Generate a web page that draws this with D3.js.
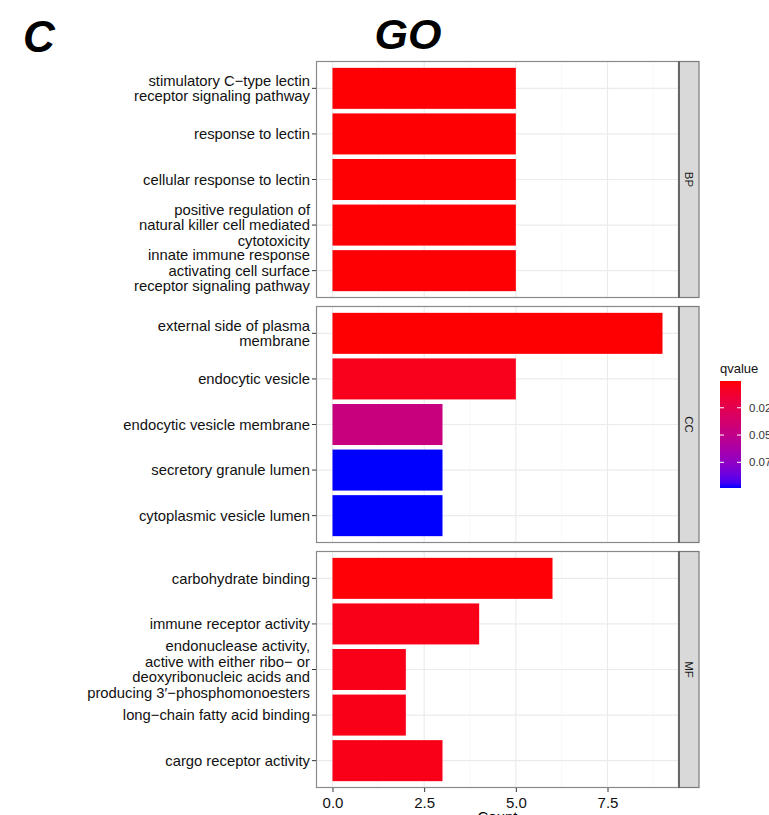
<!DOCTYPE html>
<html>
<head>
<meta charset="utf-8">
<script src="https://cdn.jsdelivr.net/npm/d3@7"></script>
<style>
  body { margin: 0; background: #fff; }
  svg { display: block; font-family: "Liberation Sans", Arial, sans-serif; }
</style>
</head>
<body>
<svg id="chart" width="769" height="815"></svg>
<script>
// ---- data ----
const ontologies = ["BP", "CC", "MF"];
const bpTerms = [
  "stimulatory C\u2212type lectin\nreceptor signaling pathway",
  "response to lectin",
  "cellular response to lectin",
  "positive regulation of\nnatural killer cell mediated\ncytotoxicity",
  "innate immune response\nactivating cell surface\nreceptor signaling pathway"
];
const bpCounts = [5, 5, 5, 5, 5];
const bpQvalues = [0.0012, 0.0012, 0.0012, 0.0012, 0.0012];

const ccTerms = [
  "external side of plasma\nmembrane",
  "endocytic vesicle",
  "endocytic vesicle membrane",
  "secretory granule lumen",
  "cytoplasmic vesicle lumen"
];
const ccCounts = [9, 5, 3, 3, 3];
const ccQvalues = [0.0008, 0.006, 0.045, 0.0985, 0.0985];

const mfTerms = [
  "carbohydrate binding",
  "immune receptor activity",
  "endonuclease activity,\nactive with either ribo\u2212 or\ndeoxyribonucleic acids and\nproducing 3\u2032\u2212phosphomonoesters",
  "long\u2212chain fatty acid binding",
  "cargo receptor activity"
];
const mfCounts = [6, 4, 2, 2, 3];
const mfQvalues = [0.0015, 0.005, 0.005, 0.005, 0.005];

const xTicks = [0, 2.5, 5, 7.5];
const xTickLabels = ["0.0", "2.5", "5.0", "7.5"];
const qTicks = [0.025, 0.05, 0.075];
const qTickLabels = ["0.025", "0.050", "0.075"];
const qDomain = [0.0005, 0.0985];

const panels = [
  { name: ontologies[0], terms: bpTerms, counts: bpCounts, q: bpQvalues },
  { name: ontologies[1], terms: ccTerms, counts: ccCounts, q: ccQvalues },
  { name: ontologies[2], terms: mfTerms, counts: mfCounts, q: mfQvalues }
];

// ---- layout ----
const svg = d3.select("#chart");
const panelLeft = 316, panelRight = 679, stripW = 20;
const panelTop = 61, panelH = 237, panelGap = 8;

const x = d3.scaleLinear().domain([-0.45, 9.45]).range([panelLeft, panelRight]);
const color = d3.scaleLinear().domain(qDomain).range(["red", "blue"]).interpolate(d3.interpolateLab);

// titles
svg.append("text").attr("x", 23).attr("y", 52)
  .attr("font-size", 44).attr("font-weight", "bold").attr("font-style", "italic")
  .attr("fill", "#000").text("C");
svg.append("text").attr("x", 408).attr("y", 49).attr("text-anchor", "middle")
  .attr("font-size", 43).attr("font-weight", "bold").attr("font-style", "italic")
  .attr("fill", "#000").text("GO");

const minorTicks = d3.range(0, 4).map(i => 1.25 + i * 2.5);

panels.forEach((p, i) => {
  const top = panelTop + i * (panelH + panelGap);
  const bottom = top + panelH;
  const y = d3.scaleBand().domain(p.terms).range([top, bottom])
    .paddingInner(0.1).paddingOuter(0.15);
  const g = svg.append("g");

  g.append("rect").attr("x", panelLeft).attr("y", top)
    .attr("width", panelRight - panelLeft).attr("height", panelH).attr("fill", "#fff");

  g.selectAll(".minor").data(minorTicks).join("line")
    .attr("x1", d => x(d)).attr("x2", d => x(d)).attr("y1", top).attr("y2", bottom)
    .attr("stroke", "#f3f3f3").attr("stroke-width", 0.6);
  g.selectAll(".majorx").data(xTicks).join("line")
    .attr("x1", d => x(d)).attr("x2", d => x(d)).attr("y1", top).attr("y2", bottom)
    .attr("stroke", "#ebebeb").attr("stroke-width", 1.1);
  g.selectAll(".majory").data(p.terms).join("line")
    .attr("x1", panelLeft).attr("x2", panelRight)
    .attr("y1", d => y(d) + y.bandwidth() / 2).attr("y2", d => y(d) + y.bandwidth() / 2)
    .attr("stroke", "#ebebeb").attr("stroke-width", 1.1);

  g.selectAll(".bar").data(p.terms.map((t, j) => ({ t, c: p.counts[j], q: p.q[j] }))).join("rect")
    .attr("x", x(0)).attr("y", d => y(d.t))
    .attr("width", d => x(d.c) - x(0)).attr("height", y.bandwidth())
    .attr("fill", d => color(d.q));

  g.append("rect").attr("x", panelLeft + 0.5).attr("y", top + 0.5)
    .attr("width", panelRight - panelLeft - 1).attr("height", panelH - 1)
    .attr("fill", "none").attr("stroke", "#8a8a8a").attr("stroke-width", 1.2);

  g.append("rect").attr("x", panelRight).attr("y", top + 0.5)
    .attr("width", stripW).attr("height", panelH - 1)
    .attr("fill", "#d9d9d9").attr("stroke", "#7a7a7a").attr("stroke-width", 1.2);
  g.append("line").attr("x1", panelRight).attr("x2", panelRight).attr("y1", top).attr("y2", bottom)
    .attr("stroke", "#666").attr("stroke-width", 2);
  g.append("text")
    .attr("transform", `translate(${panelRight + stripW / 2},${(top + bottom) / 2}) rotate(90)`)
    .attr("text-anchor", "middle").attr("dy", "0.35em")
    .attr("font-size", 11.5).attr("fill", "#1a1a1a").text(p.name);

  const yAxis = d3.axisLeft(y).tickSize(4).tickSizeOuter(0).tickFormat("");
  const ya = g.append("g").attr("transform", `translate(${panelLeft},0)`).call(yAxis);
  ya.select(".domain").remove();
  ya.selectAll(".tick line").attr("stroke", "#333");
  p.terms.forEach(t => {
    const lines = t.split("\n");
    const cy = y(t) + y.bandwidth() / 2;
    const lh = 15.6;
    const txt = g.append("text").attr("text-anchor", "end").attr("font-size", 14.8).attr("fill", "#111");
    lines.forEach((ln, k) => {
      txt.append("tspan").attr("x", panelLeft - 6)
        .attr("y", cy + (k - (lines.length - 1) / 2) * lh)
        .attr("dy", "0.35em").text(ln);
    });
  });
});

// x axis
const lastBottom = panelTop + 3 * panelH + 2 * panelGap;
const xAxis = d3.axisBottom(x).tickValues(xTicks).tickSize(4).tickSizeOuter(0)
  .tickFormat((d, i) => xTickLabels[i]);
const xa = svg.append("g").attr("transform", `translate(0,${lastBottom})`).call(xAxis);
xa.select(".domain").remove();
xa.selectAll(".tick line").attr("stroke", "#333");
xa.selectAll(".tick text").attr("font-size", 15).attr("fill", "#111").attr("dy", "0.85em")
  .attr("font-family", "Liberation Sans, Arial, sans-serif");
svg.append("text").attr("x", (panelLeft + panelRight) / 2).attr("y", 822)
  .attr("text-anchor", "middle").attr("font-size", 15).attr("fill", "#000").text("Count");

// legend
const legX = 720, legW = 21, legTop = 381, legBottom = 488;
const qy = d3.scaleLinear().domain(qDomain).range([legTop, legBottom]);
const defs = svg.append("defs");
const grad = defs.append("linearGradient").attr("id", "qgrad")
  .attr("x1", 0).attr("y1", 0).attr("x2", 0).attr("y2", 1);
d3.range(0, 21).forEach(i => {
  const t = i / 20;
  grad.append("stop").attr("offset", t)
    .attr("stop-color", color(qDomain[0] + t * (qDomain[1] - qDomain[0])));
});
svg.append("text").attr("x", legX).attr("y", 373).attr("font-size", 13).attr("fill", "#111").text("qvalue");
svg.append("rect").attr("x", legX).attr("y", legTop).attr("width", legW)
  .attr("height", legBottom - legTop).attr("fill", "url(#qgrad)");
qTicks.forEach((v, i) => {
  const yy = qy(v);
  svg.append("line").attr("x1", legX).attr("x2", legX + 4).attr("y1", yy).attr("y2", yy)
    .attr("stroke", "#fff").attr("stroke-width", 1);
  svg.append("line").attr("x1", legX + legW - 4).attr("x2", legX + legW).attr("y1", yy).attr("y2", yy)
    .attr("stroke", "#fff").attr("stroke-width", 1);
  svg.append("text").attr("x", legX + legW + 8).attr("y", yy).attr("dy", "0.35em")
    .attr("font-size", 11.5).attr("fill", "#333").text(qTickLabels[i]);
});
</script>
</body>
</html>
